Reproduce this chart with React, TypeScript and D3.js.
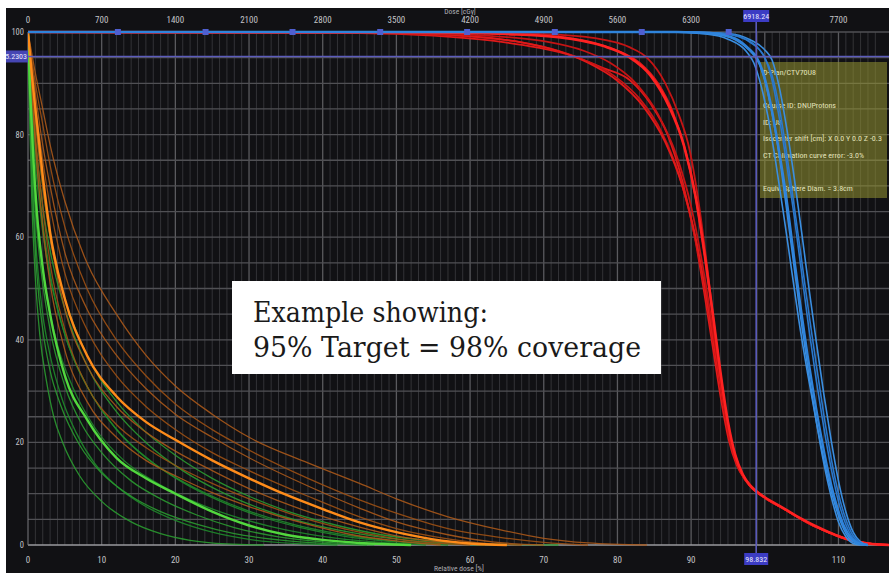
import React from 'react';
import * as d3 from 'd3';

type Pt = [number, number];

// ---------- axis / annotation data ----------
const doseTicksTop = [0, 700, 1400, 2100, 2800, 3500, 4200, 4900, 5600, 6300, 7700];
const relTicksBottom = [0, 10, 20, 30, 40, 50, 60, 70, 80, 90, 110];
const volTicks = [0, 20, 40, 60, 80, 100];
const refDosePct = 98.832;
const refDoseLabel = '6918.24';
const refDosePctLabel = '98.832';
const refVolume = 95.2303;
const refVolumeLabel = '95.2303';
const blueMarkerDoses = [12.2, 24.1, 35.9, 47.8, 59.6, 71.5, 83.3, 95.1];
const infoLines = [
  'D-Plan/CTV70U8',
  '',
  'Course ID: DNUProtons',
  'ID: U8',
  'Isocenter shift [cm]: X 0.0 Y 0.0 Z -0.3',
  'CT Calibration curve error: -3.0%',
  '',
  'Equiv. Sphere Diam. = 3.8cm',
];
const noteLines = ['Example showing:', '95% Target  = 98% coverage'];

// ---------- target (red) curves: [relative dose %, volume %] ----------
const redA: Pt[] = [[0,100],[60,99.9],[70,99.6],[77,98.8],[81.7,97],[84,95],[86.5,90],[88.3,84],[89.8,77],[91,67],[92.2,54],[93.2,42],[94.2,31],[95.2,22],[96.2,16.5],[97,13.5],[98,11.5],[100,9.2],[102.4,7.2],[105,5],[107,3.5],[109.5,2],[111.5,1],[114,0.3],[117,0]];
const redB: Pt[] = [[0,100],[58,99.9],[68,99.5],[75,98.4],[80,96.4],[83,94],[85.5,90],[87.5,84.5],[89.3,76.5],[90.7,67],[91.9,56],[93,44],[94,33],[95,23.5],[96,17],[97,13.6],[98,11.5],[100,9.2],[102.4,7.2],[105,5],[107,3.5],[109.5,2],[111.5,1],[114,0.3],[117,0]];
const redNominal: Pt[] = [[0,100],[55,99.9],[65,99.6],[72,99],[78,97.3],[81.5,95.2],[84.5,91.5],[87,85.5],[89,78],[90.6,68],[91.9,56],[93,44.5],[94,33.5],[95,24],[96,17.5],[97,13.8],[98,11.6],[100,9.3],[102.4,7.3],[105,5.1],[107,3.6],[109.5,2],[111.5,1],[114,0.3],[117,0]];
const redC: Pt[] = [[0,100],[52,99.8],[62,99.3],[70,98.2],[75.5,96.3],[79,94],[82.5,90],[85.5,84],[88,76],[90,66],[91.5,55],[92.8,43.5],[93.9,33],[94.9,24],[95.9,17.5],[97,13.6],[98,11.5],[100,9.2],[102.4,7.2],[105,5],[107,3.5],[109.5,2],[111.5,1],[114,0.3],[117,0]];
const redD: Pt[] = [[0,100],[50,99.8],[60,99.2],[67,98],[72,96.3],[76,94],[80,90.5],[83.5,85.5],[86.5,78.5],[88.8,70],[90.6,60],[92,49],[93.2,38],[94.3,28.5],[95.3,20.5],[96.3,15.5],[97.3,12.8],[98.5,11],[100,9.2],[102.4,7.2],[105,5],[107,3.5],[109.5,2],[111.5,1],[114,0.3],[117,0]];
const redE: Pt[] = [[0,100],[45,99.8],[55,99.3],[63,98.3],[69,97],[74,95.3],[78,93],[81.7,90.6],[84.5,86],[86.8,80],[88.8,71],[90.5,60],[91.8,49],[93,38],[94.1,28],[95.1,20.5],[96.2,15.5],[97.3,12.8],[98.5,11],[100,9.2],[102.4,7.2],[105,5],[107,3.5],[109.5,2],[111.5,1],[114,0.3],[117,0]];
const redF: Pt[] = [[0,100],[48,99.8],[58,99.3],[66,98.2],[71.5,96.5],[75.5,94.5],[79.5,91.5],[83,87],[86,80.5],[88.4,72],[90.3,61.5],[91.8,50.5],[93.1,39],[94.2,29],[95.2,21],[96.2,16],[97.2,13.2],[98.4,11.2],[100,9.2],[102.4,7.2],[105,5],[107,3.5],[109.5,2],[111.5,1],[114,0.3],[117,0]];

// ---------- target (blue) curves ----------
const blueA: Pt[] = [[0,100],[88,100],[93,99.6],[96,98.5],[98,96.3],[99,94.5],[100,90.5],[101,84],[102,75.5],[103,65],[104,54],[105,43],[106,33],[107,24],[108,16],[109,9.5],[110,4.5],[111,1.6],[112,0.3],[113,0]];
const blueNominal: Pt[] = [[0,100],[88,100],[93,99.7],[96,98.7],[98,96.5],[98.83,95.2],[99.8,92],[100.8,86],[101.8,78],[102.8,69],[103.8,58],[104.8,47],[105.8,37],[106.8,28],[107.8,20],[108.8,13],[109.8,7.5],[110.8,3.5],[111.8,1.2],[113,0.2],[114,0]];
const blueB: Pt[] = [[0,100],[89,100],[94,99.7],[97,98.8],[99,97],[100,95],[101,90.5],[102,83],[103,74],[104,64],[105,53],[106,42],[107,32],[108,23],[109,15],[110,8.5],[111,4],[112,1.3],[113.2,0.2],[114,0]];
const blueC: Pt[] = [[0,100],[90,100],[95,99.7],[98,98.5],[100,96.5],[101,94.5],[102,89],[103,81],[104,71.5],[105,61],[106,50],[107,39.5],[108,29.5],[109,20.5],[110,12.5],[111,6.5],[112,2.5],[113,0.6],[114,0]];
const blueD: Pt[] = [[0,100],[90,100],[95,99.6],[98,98],[99.8,95.5],[101,91.5],[102,85],[103,76],[104,66],[105,55.5],[106,45],[107,35],[108,25.5],[109,17],[110,10],[111,5],[112,1.8],[113,0.4],[114,0]];
const blueE: Pt[] = [[0,100],[87,100],[92,99.6],[95,98.6],[97.5,96.2],[98.5,94],[99.5,89.5],[100.5,83],[101.5,74.5],[102.5,65],[103.5,55],[104.6,44],[105.8,33.5],[107,24],[108.2,15.5],[109.3,9],[110.3,4.5],[111.3,1.6],[112.5,0.3],[113.5,0]];

// ---------- organ at risk (orange) curves ----------
const orangeA: Pt[] = [[0,100],[1,92],[2,85],[3,78],[5,67],[8,55],[12,45],[16,37],[20,31],[25,25.5],[30,21],[38,16],[45,12],[50,9],[57,5.5],[64,3],[70,1.3],[76,0.4],[84,0]];
const orangeB: Pt[] = [[0,100],[1,90],[2,82],[3,74],[5,62],[8,50],[12,40],[16,33],[20,27.5],[25,22.5],[30,18.5],[38,13],[45,8.8],[50,6.2],[57,3.2],[64,1.5],[70,0.5],[76,0]];
const orangeC: Pt[] = [[0,100],[1,88],[2,78],[3,70],[5,57],[8,46],[12,37],[16,30.5],[20,25.5],[25,21],[30,17],[38,11.5],[45,7.2],[50,4.5],[57,2],[63,0.6],[70,0]];
const orangeD: Pt[] = [[0,100],[1,86],[2,75],[3,66],[5,53],[8,42],[12,33],[16,27],[20,22.5],[25,18],[30,14.5],[38,9.5],[45,5.5],[50,3.2],[57,1.2],[62,0.3],[67,0]];
const orangeNominal: Pt[] = [[0,100],[0.5,92],[1,85],[2,72],[3,61],[5,48],[8,37],[12,29],[16,24],[20,20.5],[25,16.5],[30,13],[35,9.8],[40,7],[45,4.4],[50,2.5],[55,1.1],[60,0.3],[65,0]];
const orangeE: Pt[] = [[0,100],[1,83],[2,70],[3,60],[5,46],[8,35],[12,27],[16,22],[20,18.3],[25,14.5],[30,11],[38,6.5],[45,3.5],[50,1.8],[56,0.6],[62,0]];
const orangeF: Pt[] = [[0,100],[1,80],[2,66],[3,55],[5,42],[8,31],[12,23.5],[16,19],[20,15.5],[25,12],[30,9],[38,5],[45,2.5],[50,1.2],[55,0.4],[60,0]];
const orangeG: Pt[] = [[0,100],[1,78],[2,62],[3,51],[5,38],[8,28],[12,21],[16,16.5],[20,13.5],[25,10.2],[30,7.5],[38,4],[44,2],[50,0.8],[56,0]];

// ---------- organ at risk (green) curves ----------
const greenA: Pt[] = [[0,100],[0.2,85],[0.5,68],[1,52],[1.6,41],[2.5,32],[3.5,25],[4.7,20],[7,13.5],[10,8.5],[14,4.5],[18,2.2],[22,0.9],[27,0.2],[32,0]];
const greenB: Pt[] = [[0,100],[0.3,84],[0.7,68],[1.2,56],[2,45],[3,37],[4.5,29],[6.5,22],[9,16],[12,11.5],[16,7.5],[20,4.8],[25,2.5],[30,1.1],[36,0.3],[42,0]];
const greenC: Pt[] = [[0,100],[0.3,86],[0.7,72],[1.3,60],[2,51],[3,42],[5,31],[7.5,23],[10,18],[14,12.5],[18,9],[23,5.8],[28,3.4],[34,1.6],[40,0.6],[47,0]];
const greenD: Pt[] = [[0,100],[0.4,88],[0.8,78],[1.5,67],[2.5,56],[4,46],[6,37],[9,28.5],[13,21],[17,16],[21,12.2],[26,8.6],[31,5.8],[37,3.4],[43,1.7],[50,0.6],[57,0]];
const greenE: Pt[] = [[0,100],[0.4,90],[1,79],[2,66],[3.5,54],[5,46],[8,35],[12,26],[16,20],[21,14.5],[26,10.5],[31,7.4],[37,4.6],[44,2.4],[51,1],[58,0.3],[64,0]];
const greenF: Pt[] = [[0,100],[0.3,86],[0.8,72],[1.5,60],[2.5,49],[4,39],[6,31],[9,23],[13,16.5],[17,12.5],[22,8.8],[27,6],[33,3.6],[40,1.7],[47,0.6],[54,0]];
const greenG: Pt[] = [[0,100],[0.3,82],[0.7,66],[1.2,53],[2,42],[3,34],[4.5,27],[7,19.5],[10,14],[14,9.5],[18,6.5],[23,4],[28,2.2],[34,1],[40,0.3],[46,0]];
const greenH: Pt[] = [[0,100],[0.4,89],[1,77],[2,63],[3,53],[5,41],[8,31],[12,22.5],[16,17],[20,13.2],[25,9.5],[30,6.6],[36,4],[42,2.2],[48,1],[55,0.3],[62,0]];
const greenI: Pt[] = [[0,100],[0.5,92],[1,83],[2,70],[3,60],[5,48],[8,37],[12,28],[16,22],[20,17.5],[25,13],[30,9.5],[36,6.2],[42,3.8],[48,2],[55,0.8],[62,0.2],[72,0]];
const greenNominal: Pt[] = [[0,100],[0.3,88],[0.7,76],[1.2,65],[2,54],[3,45],[5,33],[8,24.5],[12,17],[16,13],[20,10],[25,6.5],[30,3.8],[35,2],[40,1],[45,0.4],[52,0]];

const redCurves = [redE, redF, redD, redC, redB, redA];
const blueCurves = [blueA, blueB, blueC, blueD, blueE];
const orangeCurves = [orangeA, orangeB, orangeC, orangeD, orangeE, orangeF, orangeG];
const greenCurves = [greenA, greenB, greenC, greenD, greenE, greenF, greenG, greenH, greenI];

const W = 889;
const H = 573;
const LABEL_FONT = "'Liberation Sans Narrow', 'Roboto Condensed', 'Arial Narrow', 'DejaVu Sans Condensed', sans-serif";

export default function App() {
  const x = d3.scaleLinear().domain([0, 115.5]).range([28, 879]);
  const xDose = d3.scaleLinear().domain([0, 8085]).range([28, 879]);
  const y = d3.scaleLinear().domain([0, 100]).range([545, 32]);
  const line = d3
    .line<Pt>()
    .x((d) => x(d[0]))
    .y((d) => y(d[1]))
    .curve(d3.curveMonotoneX);

  const minorX = d3.range(1, 116, 1);
  const gridY = d3.range(5, 101, 5);

  return (
    <svg
      width={W}
      height={H}
      style={{ position: 'absolute', left: 0, top: 0, background: '#fff' }}
    >
      <defs>
        <clipPath id="panel">
          <rect x={6} y={8} width={W - 6} height={H - 8} />
        </clipPath>
        <clipPath id="plot">
          <rect x={28} y={26} width={W - 28} height={522} />
        </clipPath>
      </defs>
      <g clipPath="url(#panel)">
        <rect x={6} y={8} width={W - 6} height={H - 8} fill="#111114" />

        {/* grid */}
        {minorX.map((p) => (
          <line
            key={'vx' + p}
            x1={x(p)}
            x2={x(p)}
            y1={y(100)}
            y2={y(0)}
            stroke={p % 10 === 0 ? '#5a5a5e' : '#333337'}
            strokeWidth={p % 10 === 0 ? 1.3 : 1}
          />
        ))}
        {gridY.map((v) => (
          <line
            key={'hy' + v}
            x1={x(0)}
            x2={W}
            y1={y(v)}
            y2={y(v)}
            stroke="#505054"
            strokeWidth={1.3}
          />
        ))}
        <line x1={x(0)} x2={880} y1={y(0)} y2={y(0)} stroke="#9a9a9e" strokeWidth={1.5} />
        <line x1={x(0)} x2={x(0)} y1={y(100)} y2={y(0)} stroke="#7a7a7e" strokeWidth={1} />

        {/* info box */}
        <rect x={760} y={62} width={127} height={136} fill="rgba(150,150,50,0.55)" />
        {infoLines.map((t, i) => (
          <text
            key={'info' + i}
            x={763}
            y={75 + i * 16.5}
            fontSize={8}
            fill="#e4e4bc"
            fontFamily={LABEL_FONT}
          >
            {t}
          </text>
        ))}

        {/* curves */}
        <g clipPath="url(#plot)" fill="none" strokeLinejoin="round">
          {greenCurves.map((c, i) => (
            <path key={'g' + i} d={line(c) || ''} stroke={i % 2 ? '#1f8a2b' : '#2a9a30'} strokeWidth={1.3} strokeOpacity={0.9} />
          ))}
          {orangeCurves.map((c, i) => (
            <path key={'o' + i} d={line(c) || ''} stroke={i % 2 ? '#9c5014' : '#a8581a'} strokeWidth={1.3} strokeOpacity={0.9} />
          ))}
          <path d={line(greenNominal) || ''} stroke="#52d83e" strokeWidth={2.4} />
          <path d={line(orangeNominal) || ''} stroke="#ff8c1a" strokeWidth={2.4} />

          {redCurves.map((c, i) => (
            <path key={'r' + i} d={line(c) || ''} stroke={i % 2 ? '#c41414' : '#e01a1a'} strokeWidth={1.8} />
          ))}
          <path d={line(redNominal) || ''} stroke="#ff2222" strokeWidth={2.6} />

          {blueCurves.map((c, i) => (
            <path key={'b' + i} d={line(c) || ''} stroke={i % 2 ? '#2a78cc' : '#3a8ee0'} strokeWidth={1.6} />
          ))}
          <path d={line(blueNominal) || ''} stroke="#2f84dc" strokeWidth={2.4} />
        </g>

        {/* blue markers along top */}
        {blueMarkerDoses.map((p) => (
          <rect key={'m' + p} x={x(p) - 3} y={y(100) - 3} width={6} height={6} fill="#4f5fd0" />
        ))}

        {/* reference lines */}
        <line x1={x(0)} x2={W} y1={y(refVolume)} y2={y(refVolume)} stroke="#5c5cbc" strokeWidth={1.6} />
        <line x1={x(refDosePct)} x2={x(refDosePct)} y1={20} y2={553} stroke="#5c5cbc" strokeWidth={1.6} />

        {/* axis labels */}
        {doseTicksTop.map((d) => (
          <text key={'t' + d} x={xDose(d)} y={23} fontSize={9} fill="#c4c4c8" textAnchor="middle" fontFamily={LABEL_FONT}>
            {d}
          </text>
        ))}
        {relTicksBottom.map((d) => (
          <text key={'b' + d} x={x(d)} y={563} fontSize={9} fill="#c4c4c8" textAnchor="middle" fontFamily={LABEL_FONT}>
            {d}
          </text>
        ))}
        {volTicks.map((v) => (
          <text key={'l' + v} x={24} y={y(v) + 3} fontSize={8.5} fill="#c4c4c8" textAnchor="end" fontFamily={LABEL_FONT}>
            {v}
          </text>
        ))}
        <text x={460} y={14} fontSize={7.5} fill="#b0b0b4" textAnchor="middle" fontFamily={LABEL_FONT}>
          Dose [cGy]
        </text>
        <text x={459} y={571} fontSize={7.5} fill="#b0b0b4" textAnchor="middle" fontFamily={LABEL_FONT}>
          Relative dose [%]
        </text>

        {/* reference value boxes */}
        <rect x={x(refDosePct) - 13} y={10} width={26} height={12} fill="#3c3cc4" />
        <text x={x(refDosePct)} y={19} fontSize={8} fill="#e8e8ff" textAnchor="middle" fontFamily={LABEL_FONT}>
          {refDoseLabel}
        </text>
        <rect x={x(refDosePct) - 12} y={553} width={24} height={12} fill="#3c3cc4" />
        <text x={x(refDosePct)} y={562} fontSize={8} fill="#e8e8ff" textAnchor="middle" fontFamily={LABEL_FONT}>
          {refDosePctLabel}
        </text>
        <rect x={0} y={y(refVolume) - 6} width={28} height={12} fill="#4646b4" />
        <text x={27} y={y(refVolume) + 3} fontSize={8} fill="#e8e8ff" textAnchor="end" fontFamily={LABEL_FONT}>
          {refVolumeLabel}
        </text>

        {/* note box */}
        <rect x={232} y={281} width={429} height={93} fill="#ffffff" />
        <text x={253} y={322} fontSize={27} fill="#1a1a1a" fontFamily="'DejaVu Serif', serif" textLength={235} lengthAdjust="spacingAndGlyphs">
          {noteLines[0]}
        </text>
        <text x={253} y={357} fontSize={27} fill="#1a1a1a" fontFamily="'DejaVu Serif', serif" textLength={388} lengthAdjust="spacingAndGlyphs">
          {noteLines[1]}
        </text>
      </g>
    </svg>
  );
}
